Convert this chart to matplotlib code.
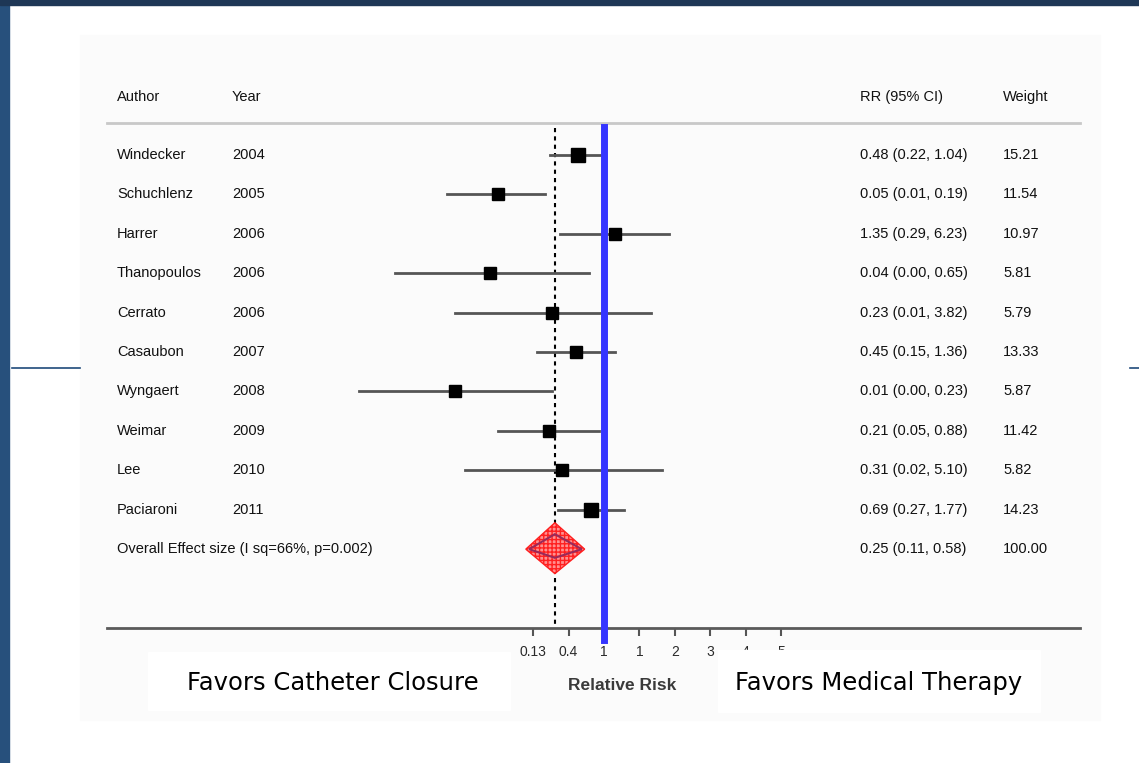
import numpy as np
import matplotlib.pyplot as plt
from matplotlib.patches import Polygon, Rectangle
from matplotlib.lines import Line2D
import matplotlib.transforms as mtransforms

authors = ['Windecker', 'Schuchlenz', 'Harrer', 'Thanopoulos', 'Cerrato',
           'Casaubon', 'Wyngaert', 'Weimar', 'Lee', 'Paciaroni']
years = ['2004', '2005', '2006', '2006', '2006', '2007', '2008', '2009', '2010', '2011']
rr_text = ['0.48 (0.22, 1.04)', '0.05 (0.01, 0.19)', '1.35 (0.29, 6.23)',
           '0.04 (0.00, 0.65)', '0.23 (0.01, 3.82)', '0.45 (0.15, 1.36)',
           '0.01 (0.00, 0.23)', '0.21 (0.05, 0.88)', '0.31 (0.02, 5.10)',
           '0.69 (0.27, 1.77)']
weights = [15.21, 11.54, 10.97, 5.81, 5.79, 13.33, 5.87, 11.42, 5.82, 14.23]
# estimates (rounded values in the table)
rr = [0.48, 0.05, 1.35, 0.04, 0.23, 0.45, 0.015, 0.21, 0.31, 0.69]
ci_low = [0.22, 0.012, 0.29, 0.0027, 0.015, 0.15, 0.001, 0.05, 0.02, 0.27]
ci_high = [1.04, 0.19, 6.23, 0.65, 3.82, 1.36, 0.23, 0.88, 5.10, 1.77]
overall_label = 'Overall Effect size (I sq=66%, p=0.002)'
overall_text = '0.25 (0.11, 0.58)'
overall_weight = '100.00'
overall = [0.25, 0.11, 0.58]
tick_vals = np.exp(np.arange(-2, 6))
tick_labels = ['0.13', '0.4', '1', '1', '2', '3', '4', '5']

W, H = 1139, 763
fig = plt.figure(figsize=(W / 100, H / 100), dpi=100)
fig.patch.set_facecolor('white')

# slide decoration
fig.add_artist(Rectangle((0, 0), 9 / W, 1, transform=fig.transFigure,
                         color='#27507c', zorder=0))
fig.add_artist(Rectangle((0, 1 - 5 / H), 1, 5 / H, transform=fig.transFigure,
                         color='#1e3756', zorder=0))
fig.add_artist(Rectangle((80 / W, 1 - 720 / H), 1020 / W, 685 / H,
                         transform=fig.transFigure, color='#fbfbfb', zorder=0))
for x0, x1 in [(12, 80), (1130, 1139)]:
    fig.add_artist(Line2D([x0 / W, x1 / W], [1 - 368 / H] * 2,
                          transform=fig.transFigure, color='#1f4a7a', lw=1.2))

ax = fig.add_axes([107 / W, 1 - 628 / H, 973 / W, 505 / H])
ax.set_facecolor('none')
ax.set_xscale('log')
ax.set_xlim(np.exp(-14.04), np.exp(13.45))
ax.set_ylim(12.0, -0.81)
for s in ['left', 'right']:
    ax.spines[s].set_visible(False)
ax.spines['top'].set_color('#c8c8c8')
ax.spines['top'].set_linewidth(2)
ax.spines['bottom'].set_color('#5a5a5a')
ax.spines['bottom'].set_linewidth(2)
ax.set_yticks([])
ax.set_xticks(tick_vals)
ax.set_xticklabels(tick_labels, family='Liberation Sans')
ax.xaxis.set_minor_locator(plt.NullLocator())
ax.tick_params(axis='x', length=6, width=1.5, color='#555555', labelsize=10,
               labelcolor='#2a2a2a', pad=6)

rows = np.arange(len(authors))
for i in rows:
    ax.plot([ci_low[i], ci_high[i]], [i, i], color='#555555', lw=2, zorder=2)
    ax.plot(rr[i], i, marker='s', color='black', ms=7 + 0.17 * weights[i],
            zorder=3)

# overall diamond
oy = len(authors)
outer = Polygon([(overall[1], oy), (overall[0], oy - 0.67), (overall[2], oy),
                 (overall[0], oy + 0.62)], closed=True, facecolor='#ff9090',
                edgecolor='#ff2020', hatch='++++', lw=1, zorder=3)
ax.add_patch(outer)
inner = Polygon([(overall[1] * 1.1, oy), (overall[0], oy - 0.38),
                 (overall[2] * 0.92, oy), (overall[0], oy + 0.22)], closed=True,
                fill=False, edgecolor='#9a2a5a', lw=1.5, zorder=4)
ax.add_patch(inner)

ax.plot([overall[0]] * 2, [-0.69, 12.0], color='black', lw=1.5,
        ls=(0, (2, 2)), zorder=1)
ax.plot([1, 1], [-0.71, 12.31], color='#3535ff', lw=5, zorder=5, clip_on=False)

# text columns
tr = mtransforms.blended_transform_factory(fig.transFigure, ax.transData)
tkw = dict(transform=tr, fontsize=10.5, color='#111111', va='center',
           family='Liberation Sans')
ax.text(117 / W, -1.47, 'Author', **tkw)
ax.text(232 / W, -1.47, 'Year', **tkw)
ax.text(860 / W, -1.47, 'RR (95% CI)', **tkw)
ax.text(1003 / W, -1.47, 'Weight', **tkw)
for i in rows:
    ax.text(117 / W, i, authors[i], **tkw)
    ax.text(232 / W, i, years[i], **tkw)
    ax.text(860 / W, i, rr_text[i], **tkw)
    ax.text(1003 / W, i, f'{weights[i]:.2f}', **tkw)
ax.text(117 / W, oy, overall_label, **tkw)
ax.text(860 / W, oy, overall_text, **tkw)
ax.text(1003 / W, oy, overall_weight, **tkw)

fig.text(622 / W, 1 - 686 / H, 'Relative Risk', ha='center', va='center',
         fontsize=12.5, color='#3a3a3a', family='Liberation Sans',
         fontweight='bold')

# labels on white boxes
fig.add_artist(Rectangle((148 / W, 1 - 710 / H), 362 / W, 58 / H,
                         transform=fig.transFigure, color='white', zorder=6))
fig.add_artist(Rectangle((718 / W, 1 - 712 / H), 322 / W, 62 / H,
                         transform=fig.transFigure, color='white', zorder=6))
fig.text(333 / W, 1 - 683 / H, 'Favors Catheter Closure', ha='center',
         va='center', fontsize=17.5, color='black', family='DejaVu Sans', zorder=7)
fig.text(879 / W, 1 - 683 / H, 'Favors Medical Therapy', ha='center',
         va='center', fontsize=17.5, color='black', family='DejaVu Sans', zorder=7)

fig.savefig('out.png', dpi=100)
